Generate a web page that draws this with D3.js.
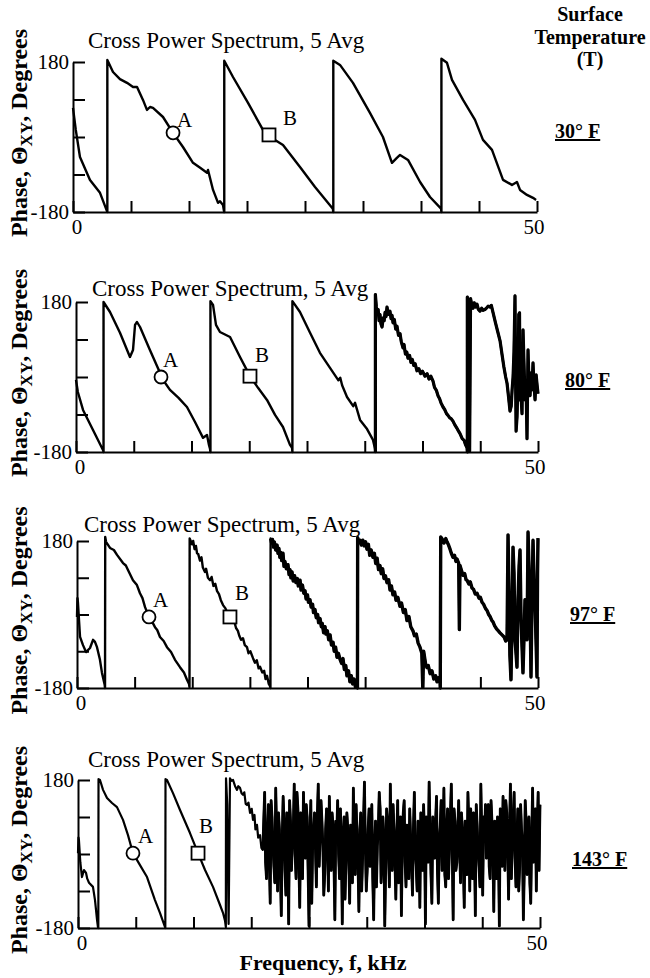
<!DOCTYPE html>
<html lang="en">
<head>
<meta charset="UTF-8">
<title>Cross Power Spectrum Phase vs Surface Temperature</title>
<script src="https://d3js.org/d3.v7.min.js"></script>
<style>
  body { margin: 0; background: #fff; }
  svg { display: block; }
  text { font-family: "Liberation Serif", "Times New Roman", serif; fill: #000; }
</style>
</head>
<body>
<div id="chart"></div>
<script>
// phase traces: [frequency kHz, phase deg]
const trace30 = [
  [0,70],[0.3,17],[0.75,-48],[1.83,-103],[2.91,-134],[3.66,-178],[3.7,-180],[3.7,185],
  [4.31,156],[5.06,139],[5.82,130],[6.47,120],[6.9,120],[7.54,89],[7.97,65],[8.3,72],[8.62,70],
  [9.7,48],[10.78,10],[11.85,-24],[12.93,-62],[13.7,-74],[14.44,-86],[14.55,-79],[15.09,-127],
  [15.63,-158],[15.84,-154],[16.16,-163],[16.27,-178],[16.3,-180],[16.3,183],
  [17.24,144],[18.86,82],[20.47,17],[21.12,5],[21.77,-7],[22.63,-19],[24.46,-72],[26.08,-120],
  [28.0,-172],[28.05,-180],[28.05,183],
  [28.77,173],[30.17,130],[32.0,58],[33.4,0],[34.37,-62],[34.9,-50],[35.24,-43],[36.1,-55],
  [37.4,-108],[38.47,-144],[39.66,-172],[39.7,-180],[39.7,188],
  [40.3,178],[40.84,137],[42.03,89],[43.32,41],[44.18,-7],[45.15,-31],[46.34,-103],[47.3,-115],
  [47.84,-108],[48.17,-127],[48.92,-139],[49.57,-146],[49.9,-151]
];

const trace80 = [
  [0,-7],[0.2,-36],[0.76,-79],[1.84,-127],[2.92,-175],[2.98,-180],[2.98,180],
  [3.68,156],[4.76,106],[5.84,48],[6.17,65],[6.39,125],[6.6,132],[6.93,120],[8.0,65],[9.09,10],
  [9.2,0],[10.17,-31],[11.1,-50],[12.01,-72],[12.88,-108],[13.75,-146],[14.18,-139],[14.39,-163],
  [14.5,-172],[14.55,-180],[14.55,182],
  [14.83,173],[15.15,125],[15.58,108],[16.67,96],[17.75,48],[18.83,2],[19.7,-26],[20.67,-55],
  [21.54,-91],[22.4,-120],[23.16,-163],[23.38,-170],[23.42,-180],[23.42,182],
  [24.24,156],[25.33,106],[26.4,58],[27.49,22],[28.4,-8],[28.6,-2],[28.8,-20],[29.33,-48],
  [30.0,-70],[30.2,-62],[30.74,-103],[31.5,-125],[32.14,-151],[32.36,-172],[32.4,-180],[32.4,198],
  [32.5,170],[32.6,150],[32.7,162],[32.8,135],[32.9,150],[33.0,128],[33.12,120],[33.25,142],
  [33.35,135],[33.45,155],[33.55,145],[33.66,168],[33.8,150],[33.98,158],[34.1,140],[34.2,148],
  [34.31,130],[34.45,138],[34.6,115],[34.74,122],[34.9,100],[35.07,104],[35.2,85],[35.39,70],
  [35.5,78],[35.65,55],[35.8,60],[35.93,45],[36.1,52],[36.25,35],[36.4,42],[36.55,28],[36.7,32],
  [36.9,15],[37.1,20],[37.3,8],[37.5,14],[37.77,2],[38.0,8],[38.2,-5],[38.4,2],[38.64,-10],
  [38.8,-25],[39.0,-32],[39.18,-45],[39.35,-52],[39.5,-62],[39.72,-72],[39.9,-78],[40.1,-88],
  [40.26,-92],[40.45,-98],[40.6,-100],[40.8,-106],[41.0,-115],[41.2,-122],[41.4,-130],[41.56,-136],
  [41.8,-148],[42.0,-152],[42.15,-162],[42.32,-170],[42.35,-180],[42.35,192],[42.5,170],[42.6,-178],
  [42.7,188],[42.85,172],[42.97,165],[43.1,178],[43.25,168],[43.4,175],[43.55,162],[43.72,158],
  [43.9,165],[44.05,160],[44.26,162],[44.45,166],[44.6,170],[44.8,168],[44.95,172],[45.13,155],
  [45.4,130],[45.65,108],[45.9,86],[46.1,55],[46.3,25],[46.5,0],[46.65,-15],[46.8,-45],[46.97,-82],
  [47.1,-70],[47.2,-30],[47.3,0],[47.4,60],[47.51,195],[47.58,-10],[47.63,-130],[47.73,-96],
  [47.84,-7],[47.92,150],[48.0,154],[48.05,-55],[48.15,-40],[48.27,-88],[48.38,113],[48.5,20],
  [48.6,-55],[48.7,-10],[48.81,-148],[48.92,65],[49.03,-20],[49.14,-45],[49.25,10],[49.35,-31],
  [49.46,34],[49.57,-20],[49.68,-55],[49.8,5],[49.9,-19],[50,-40]
];

const trace97 = [
  [0,-6],[0.05,40],[0.1,30],[0.33,-55],[0.65,-75],[0.98,-92],[1.41,-82],[1.74,-62],[1.95,-67],
  [2.17,-80],[2.49,-111],[2.71,-143],[3.0,-172],[3.04,-180],[3.06,190],
  [3.15,178],[3.58,163],[4.0,158],[4.34,146],[4.99,126],[5.3,120],[5.53,109],[6.07,84],[6.5,72],
  [6.83,52],[7.1,40],[7.38,18],[7.81,-6],[8.2,-20],[8.46,-31],[8.7,-38],[9.0,-55],[9.4,-65],
  [9.76,-80],[10.2,-92],[10.63,-111],[11.17,-129],[11.6,-142],[11.93,-160],[12.15,-170],
  [12.2,-178],[12.22,186],
  [12.3,182],[12.47,172],[12.6,180],[12.75,160],[12.9,168],[13.02,150],[13.15,148],[13.34,132],
  [13.5,140],[13.65,115],[13.88,104],[14.0,112],[14.2,90],[14.43,84],[14.6,92],[14.8,70],[15.0,75],
  [15.18,58],[15.4,50],[15.6,35],[15.84,23],[16.1,15],[16.3,5],[16.59,-6],[16.8,-15],[17.0,-12],
  [17.25,-33],[17.45,-40],[17.6,-52],[17.79,-62],[18.0,-58],[18.2,-75],[18.44,-80],[18.6,-95],
  [18.8,-90],[19.09,-107],[19.3,-118],[19.5,-112],[19.7,-132],[19.85,-128],[20.1,-142],[20.3,-138],
  [20.45,-158],[20.61,-150],[20.8,-170],[20.93,-175],[20.98,-180],[21.0,186],
  [21.1,176],[21.2,184],[21.3,165],[21.4,178],[21.55,158],[21.7,170],[21.8,150],[21.9,162],
  [22.0,140],[22.1,152],[22.2,132],[22.34,150],[22.45,118],[22.55,130],[22.7,112],[22.88,122],
  [23.0,98],[23.1,110],[23.2,90],[23.32,104],[23.45,82],[23.6,95],[23.75,78],[23.9,88],[24.0,70],
  [24.19,84],[24.3,60],[24.45,72],[24.6,52],[24.73,58],[24.85,38],[25.0,48],[25.1,30],[25.27,36],
  [25.4,18],[25.55,25],[25.65,5],[25.81,12],[25.95,-8],[26.1,0],[26.2,-20],[26.36,-10],[26.5,-30],
  [26.6,-22],[26.75,-45],[26.9,-30],[27.0,-48],[27.15,-40],[27.3,-62],[27.45,-50],[27.6,-75],
  [27.77,-68],[27.9,-90],[28.05,-80],[28.2,-105],[28.35,-95],[28.53,-110],[28.7,-120],[28.85,-108],
  [29.0,-135],[29.15,-125],[29.28,-150],[29.45,-138],[29.6,-165],[29.75,-150],[29.9,-170],
  [30.05,-158],[30.2,-178],[30.3,-165],[30.37,-175],[30.42,-180],[30.44,188],
  [30.55,178],[30.69,182],[30.85,170],[31.0,182],[31.15,168],[31.3,178],[31.45,160],[31.6,172],
  [31.75,145],[31.9,158],[32.1,140],[32.25,150],[32.4,125],[32.55,138],[32.7,110],[32.86,120],
  [33.0,100],[33.15,112],[33.3,88],[33.45,95],[33.62,78],[33.8,85],[33.95,60],[34.1,70],[34.27,48],
  [34.45,55],[34.6,35],[34.8,42],[35.03,20],[35.2,28],[35.4,5],[35.6,12],[35.79,-15],[36.0,-5],
  [36.2,-30],[36.44,-40],[36.6,-52],[36.8,-48],[37.0,-70],[37.2,-80],[37.4,-95],[37.5,-178],
  [37.6,-90],[37.8,-120],[37.96,-130],[38.1,-125],[38.3,-145],[38.5,-138],[38.7,-158],[38.9,-150],
  [39.05,-165],[39.2,-155],[39.37,-162],[39.4,-180],[39.45,190],
  [39.6,185],[39.8,175],[40.0,186],[40.13,178],[40.3,170],[40.46,160],[40.6,150],[40.78,140],
  [40.95,145],[41.1,130],[41.22,136],[41.4,125],[41.47,-37],[41.54,120],[41.7,108],[41.87,96],
  [42.05,100],[42.2,85],[42.3,84],[42.5,75],[42.65,80],[42.84,65],[43.0,62],[43.2,50],[43.39,52],
  [43.6,40],[43.75,42],[43.93,30],[44.1,25],[44.3,15],[44.47,10],[44.65,0],[44.8,-5],[45.0,-15],
  [45.12,-18],[45.3,-28],[45.5,-35],[45.7,-40],[45.88,-45],[46.1,-50],[46.32,-55],[46.5,-65],
  [46.64,-62],[46.75,195],[46.85,60],[46.95,-100],[47.07,-160],[47.18,-13],[47.29,165],[47.4,100],
  [47.5,-62],[47.6,-90],[47.72,-129],[47.83,36],[47.95,120],[48.05,158],[48.16,-13],[48.27,-80],
  [48.37,-143],[48.48,-60],[48.59,36],[48.7,-20],[48.81,-62],[48.92,202],[49.02,120],[49.13,36],
  [49.24,-153],[49.35,40],[49.46,182],[49.57,90],[49.67,36],[49.78,-60],[49.89,-153],[49.95,100],
  [50.0,187]
];

const trace143 = [
  [0,2],[0.05,40],[0.1,34],[0.25,-20],[0.43,-56],[0.65,-39],[0.87,-46],[1.0,-60],[1.19,-70],
  [1.62,-80],[1.84,-112],[2.06,-160],[2.16,-178],[2.2,-180],[2.22,182],
  [2.38,180],[2.71,156],[3.14,136],[3.68,124],[4.22,114],[4.87,83],[5.41,46],[5.95,2],[6.71,-27],
  [7.47,-56],[8.33,-112],[8.87,-143],[9.42,-178],[9.45,-180],[9.47,182],
  [9.63,180],[10.28,148],[11.04,107],[12.12,51],[12.99,2],[13.75,-39],[14.61,-80],[15.37,-124],
  [15.69,-143],[15.91,-162],[16.0,-178],[16.02,184],[16.15,120],[16.3,-170],[16.45,184],
  [16.6,178],[16.78,180],[17.0,165],[17.21,156],[17.35,165],[17.53,161],[17.7,148],[17.86,144],
  [18.0,150],[18.15,122],[18.29,119],[18.45,125],[18.62,100],[18.8,110],[18.94,83],[19.1,95],
  [19.2,60],[19.37,71],[19.5,40],[19.7,46],[19.85,15],
  [20.0,10],[20.1,80],[20.2,150],[20.3,-20],[20.4,-60],[20.5,40],[20.6,120],[20.7,-10],[20.8,-120],[20.9,130],
  [21.0,90],[21.1,20],[21.2,-30],[21.3,-70],[21.4,160],[21.5,50],[21.6,-90],[21.7,100],[21.8,60],[21.9,-40],
  [22.0,-150],[22.1,30],[22.2,140],[22.3,80],[22.4,-40],[22.5,-100],[22.6,100],[22.7,20],[22.8,-170],[22.9,130],
  [23.0,80],[23.1,-40],[23.2,20],[23.3,60],[23.4,170],[23.5,0],[23.6,-60],[23.7,150],[23.8,110],[23.9,-20],
  [24.0,-130],[24.1,100],[24.2,60],[24.3,-60],[24.4,150],[24.5,40],[24.6,-10],[24.7,120],[24.8,90],[24.9,-40],
  [25.0,-175],[25.1,50],[25.2,130],[25.3,-120],[25.4,30],[25.5,60],[25.6,100],[25.7,10],[25.8,-80],[25.9,90],
  [26.0,170],[26.1,-30],[26.2,40],[26.3,130],[26.4,80],[26.5,20],[26.6,-100],[26.7,-50],[26.8,60],[26.9,110],
  [27.0,20],[27.1,-90],[27.2,140],[27.3,40],[27.4,-40],[27.5,100],[27.6,70],[27.7,-20],[27.8,-160],[27.9,80],
  [28.0,50],[28.1,130],[28.2,0],[28.3,-60],[28.4,110],[28.5,40],[28.6,-170],[28.7,20],[28.8,90],[28.9,-110],
  [29.0,-20],[29.1,100],[29.2,60],[29.3,-10],[29.4,-120],[29.5,70],[29.6,30],[29.7,-70],[29.8,160],[29.9,40],
  [30.0,-50],[30.1,120],[30.2,40],[30.3,-20],[30.4,-140],[30.5,60],[30.6,100],[30.7,-90],[30.8,-10],[30.9,80],
  [31.0,175],[31.1,20],[31.2,-90],[31.3,-40],[31.4,60],[31.5,110],[31.6,-30],[31.7,40],[31.8,120],[31.9,-60],
  [32.0,-160],[32.1,20],[32.2,80],[32.3,-80],[32.4,20],[32.5,60],[32.6,150],[32.7,110],[32.8,-70],[32.9,-20],
  [33.0,90],[33.1,40],[33.2,-175],[33.3,-30],[33.4,110],[33.5,80],[33.6,0],[33.7,-80],[33.8,170],[33.9,30],
  [34.0,-40],[34.1,120],[34.2,60],[34.3,-20],[34.4,-110],[34.5,50],[34.6,130],[34.7,-70],[34.8,10],[34.9,90],
  [35.0,-150],[35.1,20],[35.2,100],[35.3,130],[35.4,-20],[35.5,-80],[35.6,70],[35.7,20],[35.8,-60],[35.9,110],
  [36.0,40],[36.1,-30],[36.2,-100],[36.3,60],[36.4,150],[36.5,10],[36.6,-30],[36.7,-90],[36.8,80],[36.9,30],
  [37.0,-130],[37.1,100],[37.2,20],[37.3,-40],[37.4,120],[37.5,50],[37.6,-170],[37.7,90],[37.8,60],[37.9,-20],
  [38.0,175],[38.1,60],[38.2,-50],[38.3,-120],[38.4,90],[38.5,20],[38.6,-10],[38.7,80],[38.8,140],[38.9,-40],
  [39.0,-120],[39.1,30],[39.2,70],[39.3,130],[39.4,-40],[39.5,10],[39.6,160],[39.7,-50],[39.8,-80],[39.9,70],
  [40.0,110],[40.1,-60],[40.2,10],[40.3,90],[40.4,170],[40.5,20],[40.6,-160],[40.7,110],[40.8,80],[40.9,-40],
  [41.0,-20],[41.1,60],[41.2,130],[41.3,10],[41.4,-70],[41.5,100],[41.6,60],[41.7,-20],[41.8,-130],[41.9,80],
  [42.0,40],[42.1,-50],[42.2,150],[42.3,70],[42.4,-90],[42.5,110],[42.6,20],[42.7,-60],[42.8,100],[42.9,30],
  [43.0,-150],[43.1,120],[43.2,70],[43.3,10],[43.4,-30],[43.5,-80],[43.6,170],[43.7,40],[43.8,-100],[43.9,90],
  [44.0,50],[44.1,120],[44.2,-10],[44.3,40],[44.4,120],[44.5,-30],[44.6,-60],[44.7,130],[44.8,80],[44.9,0],
  [45.0,-140],[45.1,80],[45.2,30],[45.3,-60],[45.4,90],[45.5,20],[45.6,-175],[45.7,110],[45.8,60],[45.9,-30],
  [46.0,140],[46.1,60],[46.2,-40],[46.3,130],[46.4,100],[46.5,20],[46.6,-110],[46.7,60],[46.8,170],[46.9,-60],
  [47.0,20],[47.1,90],[47.2,150],[47.3,-10],[47.4,-80],[47.5,40],[47.6,110],[47.7,-90],[47.8,-30],[47.9,120],
  [48.0,60],[48.1,30],[48.2,-160],[48.3,-40],[48.4,130],[48.5,80],[48.6,-50],[48.7,10],[48.8,90],[48.9,-70],
  [49.0,-120],[49.1,40],[49.2,160],[49.3,-20],[49.4,40],[49.5,110],[49.6,-90],[49.7,60],[49.8,150],[49.9,-40],
  [50.0,120]
];

const temperatures = ["30° F", "80° F", "97° F", "143° F"];
const pointA = [[10.78, 10], [9.2, 0], [7.81, -6], [5.95, 2]];
const pointB = [[21.12, 5], [18.83, 2], [16.59, -6], [12.99, 2]];
const noiseFrom = [null, 32.4, 21.0, 20.0];   // kHz where each trace turns ragged
const xTicks = [0, 6.25, 12.5, 18.75, 25, 31.25, 37.5, 43.75, 50];
const yTicks = [-180, -90, 0, 90, 180];
const xTickLabels = ["0", "50"];
const yTickLabels = ["-180", "180"];
const heading = ["Surface", "Temperature", "(T)"];
const traces = [trace30, trace80, trace97, trace143];

// panel boxes and label placement
const layout = [
  { left: 73, right: 537, top: 62,  bottom: 212, titleX: 88, titleY: 48,  tempX: 555, tempY: 138, sw: 2.4, nsw: 2.4, aOff: [4, -6],  bOff: [14, -10] },
  { left: 76, right: 538, top: 302, bottom: 452, titleX: 92, titleY: 296, tempX: 565, tempY: 387, sw: 2.4, nsw: 3.2, aOff: [2, -10], bOff: [5, -14] },
  { left: 77, right: 538, top: 541, bottom: 688, titleX: 84, titleY: 532, tempX: 570, tempY: 621, sw: 2.4, nsw: 3.4, aOff: [4, -10], bOff: [5, -17] },
  { left: 78, right: 540, top: 780, bottom: 928, titleX: 88, titleY: 767, tempX: 572, tempY: 866, sw: 2.2, nsw: 2.8, aOff: [5, -10], bOff: [1, -20] }
];

const W = 650, H = 978;
const svg = d3.select("#chart").append("svg").attr("width", W).attr("height", H);

layout.forEach((p, i) => {
  const x = d3.scaleLinear().domain([0, 50]).range([p.left, p.right]);
  const y = d3.scaleLinear().domain([-180, 180]).range([p.bottom, p.top]);
  const g = svg.append("g");
  const line = d3.line().x(d => x(d[0])).y(d => y(d[1]));

  // phase trace
  g.append("path")
    .datum(traces[i])
    .attr("d", line)
    .attr("fill", "none")
    .attr("stroke", "#000")
    .attr("stroke-width", p.sw)
    .attr("stroke-linejoin", "round");

  // ragged part drawn heavier, as in the plotter output
  if (noiseFrom[i] !== null) {
    g.append("path")
      .datum(traces[i].filter(d => d[0] >= noiseFrom[i]))
      .attr("d", line)
      .attr("fill", "none")
      .attr("stroke", "#000")
      .attr("stroke-width", p.nsw)
      .attr("stroke-linejoin", "round");
  }

  // axes: ticks point into the plot
  const xa = g.append("g").attr("transform", `translate(0,${p.bottom})`)
    .call(d3.axisTop(x).tickValues(xTicks).tickSize(11).tickSizeOuter(0).tickFormat(""));
  const ya = g.append("g").attr("transform", `translate(${p.left},0)`)
    .call(d3.axisRight(y).tickValues(yTicks).tickSize(12).tickSizeOuter(0).tickFormat(""));
  [xa, ya].forEach(a => a.selectAll("path, line").attr("stroke", "#000").attr("stroke-width", 2));

  // tick labels
  g.selectAll(".xl").data(xTickLabels).enter().append("text")
    .attr("x", (d, k) => k === 0 ? x(0) + 4 : x(50) - 3)
    .attr("y", p.bottom + 22)
    .attr("text-anchor", "middle")
    .attr("font-size", 21)
    .text(d => d);
  g.selectAll(".yl").data(yTickLabels).enter().append("text")
    .attr("x", p.left - 4)
    .attr("y", d => y(+d) + 7)
    .attr("text-anchor", "end")
    .attr("font-size", 21)
    .text(d => d);

  // markers A and B
  const a = pointA[i], b = pointB[i];
  g.append("circle").attr("cx", x(a[0])).attr("cy", y(a[1])).attr("r", 6.5)
    .attr("fill", "#fff").attr("stroke", "#000").attr("stroke-width", 1.8);
  g.append("rect").attr("x", x(b[0]) - 6.5).attr("y", y(b[1]) - 6.5).attr("width", 13).attr("height", 13)
    .attr("fill", "#fff").attr("stroke", "#000").attr("stroke-width", 1.8);
  g.append("text").attr("x", x(a[0]) + p.aOff[0]).attr("y", y(a[1]) + p.aOff[1])
    .attr("font-size", 21).text("A");
  g.append("text").attr("x", x(b[0]) + p.bOff[0]).attr("y", y(b[1]) + p.bOff[1])
    .attr("font-size", 21).text("B");

  // title
  g.append("text").attr("x", p.titleX).attr("y", p.titleY)
    .attr("font-size", 23).text("Cross Power Spectrum, 5 Avg");

  // y label
  const yl = g.append("text")
    .attr("transform", `translate(27,${(p.top + p.bottom) / 2 - 4}) rotate(-90)`)
    .attr("text-anchor", "middle")
    .attr("font-weight", "bold")
    .attr("font-size", 24);
  yl.append("tspan").text("Phase, Θ");
  yl.append("tspan").attr("font-size", 17).attr("dy", 5).text("XY");
  yl.append("tspan").attr("dy", -5).text(", Degrees");

  // temperature
  g.append("text").attr("x", p.tempX).attr("y", p.tempY)
    .attr("font-size", 20).attr("font-weight", "bold")
    .attr("text-decoration", "underline")
    .text(temperatures[i]);
});

// column heading at right
svg.selectAll(".head").data(heading).enter().append("text")
  .attr("x", 590)
  .attr("y", (d, k) => [21, 44, 66][k])
  .attr("text-anchor", "middle")
  .attr("font-size", 20)
  .attr("font-weight", "bold")
  .text(d => d);

svg.append("text")
  .attr("x", 323).attr("y", 970)
  .attr("text-anchor", "middle")
  .attr("font-size", 22)
  .attr("font-weight", "bold")
  .text("Frequency, f, kHz");
</script>
</body>
</html>
